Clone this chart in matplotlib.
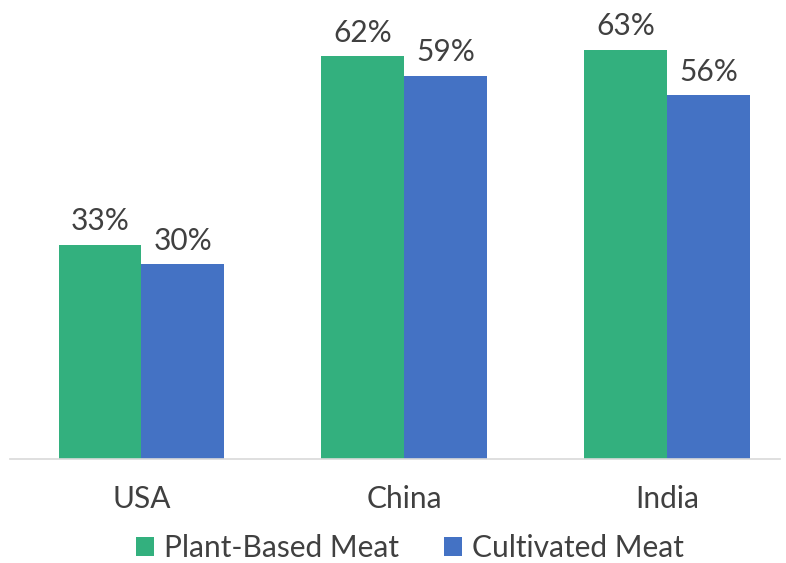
import matplotlib
matplotlib.use("Agg")
import matplotlib.pyplot as plt
import numpy as np

countries = ["USA", "China", "India"]
series_names = ["Plant-Based Meat", "Cultivated Meat"]
plant_based = [33, 62, 63]
cultivated = [30, 59, 56]
colors = ["#33B07E", "#4472C4"]
text_color = "#404040"

plt.rcParams["font.family"] = ["Lato", "DejaVu Sans"]

fig = plt.figure(figsize=(7.86, 5.63), dpi=100)
ax = fig.add_axes([10 / 786, 104 / 563, 770 / 786, 459 / 563])

x = np.arange(len(countries))
width = 0.315
for i, (vals, name) in enumerate(zip([plant_based, cultivated], series_names)):
    pos = x + (i - 0.5) * width
    bars = ax.bar(pos, vals, width, color=colors[i], label=name, zorder=2)
    for b, v in zip(bars, vals):
        ax.annotate(f"{v}%", (b.get_x() + b.get_width() / 2, v),
                    xytext=(0, 7), textcoords="offset points",
                    ha="center", va="bottom", fontsize=21.5, color=text_color)

ax.set_xlim(-0.5, 2.43)
ax.set_ylim(0, 70.7)
ax.set_yticks([])
ax.set_xticks(x)
ax.set_xticklabels(countries, fontsize=21.5, color=text_color)
ax.tick_params(axis="x", length=0, pad=19)
for s in ["top", "right", "left"]:
    ax.spines[s].set_visible(False)
ax.spines["bottom"].set_color("#D9D9D9")
ax.spines["bottom"].set_linewidth(1.2)

leg = fig.legend(loc="center", bbox_to_anchor=(410 / 786, 1 - 548 / 563), ncol=2,
                 frameon=False, fontsize=21.5, handlelength=0.62, handleheight=0.6,
                 handletextpad=0.33, columnspacing=1.5)
for t in leg.get_texts():
    t.set_color(text_color)

fig.savefig("out.png", dpi=100)
